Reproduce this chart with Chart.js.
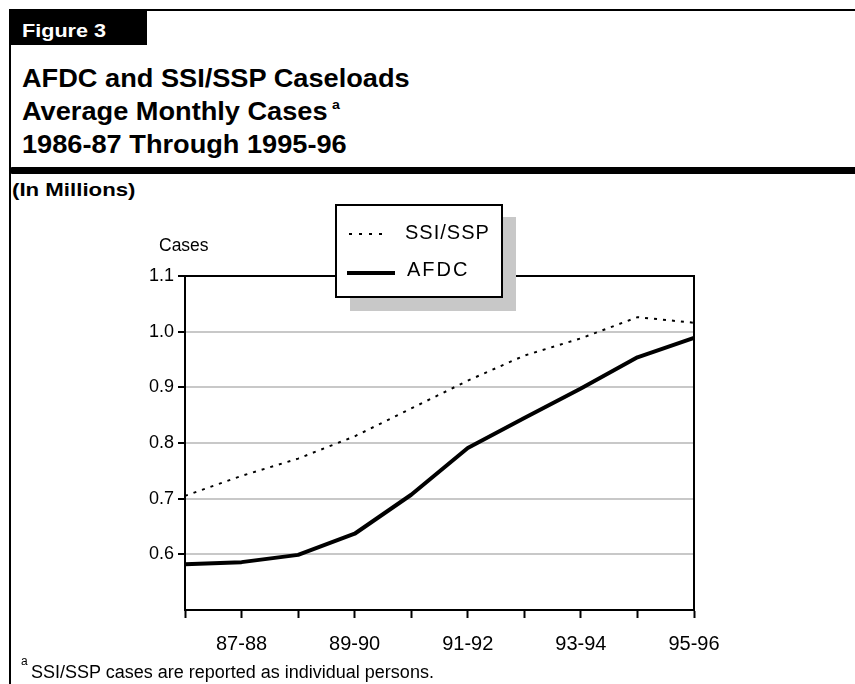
<!DOCTYPE html>
<html>
<head>
<meta charset="utf-8">
<script src="https://cdn.jsdelivr.net/npm/chart.js@4"></script>
<style>
  html, body { margin: 0; padding: 0; background: #fff; }
  body { width: 855px; height: 684px; position: relative; overflow: hidden; font-family: "Liberation Sans", Arial, sans-serif; color: #000; }
  .abs { position: absolute; }
  #chartWrap { position: absolute; left: 0; top: 0; width: 855px; height: 684px; }
  .stretch { transform-origin: 0 0; white-space: nowrap; }
</style>
</head>
<body>
<div class="abs" style="left:9px;top:9px;width:2px;height:675px;background:#000;"></div>
<div class="abs" style="left:9px;top:9px;width:846px;height:2px;background:#000;"></div>
<div class="abs" style="left:9px;top:9px;width:138px;height:36px;background:#000;"></div>
<div class="abs stretch" style="left:22px;top:21px;font-size:18px;font-weight:bold;color:#fff;line-height:20px;transform:scaleX(1.2);">Figure 3</div>
<div class="abs stretch" style="left:22px;top:62px;font-size:25px;font-weight:bold;line-height:33px;transform:scaleX(1.087);">
  AFDC and SSI/SSP Caseloads<br>Average Monthly Cases<span style="font-size:13px;line-height:0;position:relative;top:-11px;margin-left:4px;">a</span><br>1986-87 Through 1995-96
</div>
<div class="abs" style="left:9px;top:167px;width:846px;height:7px;background:#000;border-radius:4px 0 0 4px;"></div>
<div class="abs stretch" style="left:12px;top:178px;font-size:19px;font-weight:bold;line-height:24px;transform:scaleX(1.17);">(In Millions)</div>

<div id="chartWrap"><canvas id="c" width="855" height="684"></canvas></div>

<div class="abs" style="left:159px;top:235px;font-size:17.5px;line-height:20px;">Cases</div>

<div class="abs" style="left:350px;top:217px;width:166px;height:94px;background:#c8c8c8;"></div>
<div class="abs" style="left:335px;top:204px;width:164px;height:90px;background:#fff;border:2px solid #000;">
  <div class="abs" style="left:12px;top:27px;width:40px;height:2px;background:repeating-linear-gradient(to right,#000 0 3px,transparent 3px 10px);"></div>
  <div class="abs" style="left:68px;top:14px;font-size:20px;line-height:24px;letter-spacing:1px;">SSI/SSP</div>
  <div class="abs" style="left:10px;top:65px;width:48px;height:4px;background:#000;"></div>
  <div class="abs" style="left:70px;top:51px;font-size:20px;line-height:24px;letter-spacing:2px;">AFDC</div>
</div>

<div class="abs" style="left:21px;top:654px;font-size:12px;line-height:14px;">a</div>
<div class="abs" style="left:31px;top:662px;font-size:18px;line-height:20px;">SSI/SSP cases are reported as individual persons.</div>

<script>
const categories = ['86-87', '87-88', '88-89', '89-90', '90-91', '91-92', '92-93', '93-94', '94-95', '95-96'];
const ssiValues  = [0.705, 0.741, 0.772, 0.812, 0.862, 0.912, 0.957, 0.988, 1.026, 1.016];
const afdcValues = [0.582, 0.586, 0.599, 0.637, 0.707, 0.791, 0.845, 0.898, 0.954, 0.989];
const yTicks = [0.5, 0.6, 0.7, 0.8, 0.9, 1.0, 1.1];

const frame = {
  id: 'frame',
  afterDraw(chart) {
    const a = chart.chartArea, ctx = chart.ctx;
    ctx.save();
    ctx.strokeStyle = '#000';
    ctx.lineWidth = 2;
    ctx.beginPath();
    ctx.moveTo(a.left, a.top);
    ctx.lineTo(a.right, a.top);
    ctx.lineTo(a.right, a.bottom);
    ctx.stroke();
    ctx.restore();
  }
};

new Chart(document.getElementById('c'), {
  type: 'line',
  data: {
    labels: categories,
    datasets: [
      { label: 'SSI/SSP', data: ssiValues, borderColor: '#000', borderWidth: 2, borderDash: [3, 6], pointRadius: 0, tension: 0, fill: false },
      { label: 'AFDC', data: afdcValues, borderColor: '#000', borderWidth: 4, pointRadius: 0, tension: 0, fill: false, borderJoinStyle: 'round' }
    ]
  },
  options: {
    responsive: false,
    animation: false,
    events: [],
    layout: { padding: { left: 0, top: 276, right: 161, bottom: 0 } },
    plugins: { legend: { display: false }, tooltip: { enabled: false }, title: { display: false } },
    scales: {
      x: {
        type: 'category',
        offset: false,
        border: { display: true, color: '#000', width: 2 },
        grid: { drawOnChartArea: false, drawTicks: true, tickLength: 8, tickColor: '#000', tickWidth: 2 },
        ticks: {
          autoSkip: false, maxRotation: 0, minRotation: 0, padding: 14,
          color: '#000', font: { family: 'Liberation Sans, Arial, sans-serif', size: 20 },
          callback: (v, i) => (i % 2 === 1 ? categories[i] : '')
        },
        afterFit: s => { s.height = 74; }
      },
      y: {
        min: 0.5, max: 1.1,
        afterBuildTicks: s => { s.ticks = yTicks.map(v => ({ value: v })); },
        border: { display: true, color: '#000', width: 2 },
        grid: {
          drawTicks: true, tickLength: 7, tickWidth: 2,
          tickColor: ctx => (ctx.tick && ctx.tick.value > 0.55 ? '#000' : 'rgba(0,0,0,0)'),
          color: ctx => (ctx.tick && ctx.tick.value > 0.55 && ctx.tick.value < 1.05 ? '#c8c8c8' : 'rgba(0,0,0,0)'),
          lineWidth: 2
        },
        ticks: {
          padding: 4, color: '#000', font: { family: 'Liberation Sans, Arial, sans-serif', size: 18 },
          callback: v => (v > 0.55 ? v.toFixed(1) : '')
        },
        afterFit: s => { s.width = 185; }
      }
    }
  },
  plugins: [frame]
});
</script>
</body>
</html>
